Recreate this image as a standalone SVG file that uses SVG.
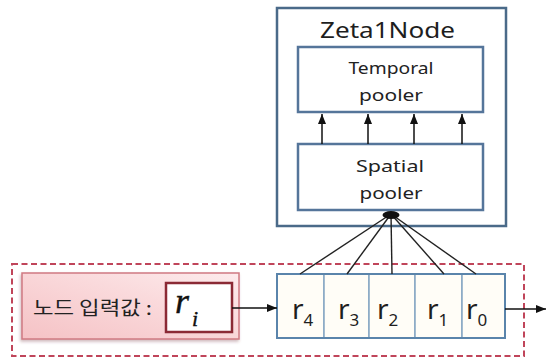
<svg xmlns="http://www.w3.org/2000/svg" width="547" height="358" viewBox="0 0 547 358">
  <defs>
    <marker id="arrow" markerUnits="userSpaceOnUse" markerWidth="10" markerHeight="8" refX="10" refY="4" orient="auto">
      <path d="M0,0 L10,4 L0,8 z" fill="#111"/>
    </marker>
    <linearGradient id="pinkFill" x1="0" y1="1" x2="1" y2="0">
      <stop offset="0" stop-color="#f5c2c5"/>
      <stop offset="0.6" stop-color="#fadadc"/>
      <stop offset="1" stop-color="#fdeced"/>
    </linearGradient>
    <filter id="softShadow" x="-10%" y="-10%" width="120%" height="130%">
      <feDropShadow dx="-1" dy="2" stdDeviation="1.5" flood-color="#7a3a40" flood-opacity="0.35"/>
    </filter>
    <style>
      .node-frame { fill: #ffffff; stroke: #4a6a89; stroke-width: 2.5; }
      .pool-box { fill: #ffffff; stroke: #55759a; stroke-width: 2.5; }
      .title { font-family: "Noto Sans", "Liberation Sans", sans-serif; font-size: 22px; fill: #1e1e1e; }
      .label { font-family: "Noto Sans", "Liberation Sans", sans-serif; font-size: 17px; fill: #222; text-anchor: middle; }
      .cell { fill: #fffdf7; stroke: #86a6c4; stroke-width: 1.5; }
      .array-frame { fill: none; stroke: #5a84ab; stroke-width: 2; }
      .r-main { font-family: "Noto Sans", "Liberation Sans", sans-serif; font-size: 28px; fill: #1e1e1e; }
      .r-sub { font-size: 17px; }
      .wire { stroke: #222; stroke-width: 1.4; fill: none; }
      .arrow { stroke: #111; stroke-width: 1.5; fill: none; marker-end: url(#arrow); }
      .math { font-family: "Liberation Serif", "DejaVu Serif", serif; font-style: italic; fill: #111; }
    </style>
  </defs>

  <rect width="547" height="358" fill="#ffffff"/>

  <!-- Zeta1Node container -->
  <g id="zeta1node">
    <rect class="node-frame" x="277" y="8" width="229" height="218"/>
    <text class="title" x="320" y="38" textLength="135" lengthAdjust="spacingAndGlyphs">Zeta1Node</text>
  </g>

  <!-- Temporal pooler -->
  <g id="temporal-pooler">
    <rect class="pool-box" x="298" y="47" width="185" height="65"/>
    <text class="label" x="391" y="74" textLength="85" lengthAdjust="spacingAndGlyphs">Temporal</text>
    <text class="label" x="391" y="101" textLength="64" lengthAdjust="spacingAndGlyphs">pooler</text>
  </g>

  <!-- Spatial pooler -->
  <g id="spatial-pooler">
    <rect class="pool-box" x="298" y="144" width="185" height="66"/>
    <text class="label" x="390" y="172" textLength="68" lengthAdjust="spacingAndGlyphs">Spatial</text>
    <text class="label" x="391" y="199" textLength="63" lengthAdjust="spacingAndGlyphs">pooler</text>
  </g>

  <!-- Input region (dashed) -->
  <g id="input-region">
    <rect x="12" y="264" width="512" height="92" fill="none" stroke="#c0455a" stroke-width="2" stroke-dasharray="6 3.5"/>
  </g>

  <!-- Node input value label -->
  <g id="input-label">
    <rect x="22" y="273" width="217" height="66" fill="url(#pinkFill)" stroke="#cf7a82" stroke-width="1.5" filter="url(#softShadow)"/>
    <text x="33" y="315" font-family="'Noto Sans CJK KR', 'Noto Sans', sans-serif" font-size="19" fill="#222" textLength="119" lengthAdjust="spacingAndGlyphs">노드 입력값 :</text>
  </g>

  <!-- r_i value box -->
  <g id="input-value">
    <rect x="166" y="283" width="66" height="49" fill="#ffffff" stroke="#8b2a35" stroke-width="2.5"/>
    <text class="math" x="175" y="313" font-size="36" stroke="#111" stroke-width="0.4">r<tspan font-size="22" dx="3" dy="13">i</tspan></text>
  </g>

  <!-- Shift register r4..r0 -->
  <g id="register">
    <g id="cell-r4">
      <rect class="cell" x="277" y="274" width="47" height="64"/>
      <text class="r-main" x="292" y="319">r<tspan class="r-sub" dy="7">4</tspan></text>
    </g>
    <g id="cell-r3">
      <rect class="cell" x="324" y="274" width="45" height="64"/>
      <text class="r-main" x="338" y="319">r<tspan class="r-sub" dy="7">3</tspan></text>
    </g>
    <g id="cell-r2">
      <rect class="cell" x="369" y="274" width="46" height="64"/>
      <text class="r-main" x="377" y="319">r<tspan class="r-sub" dy="7">2</tspan></text>
    </g>
    <g id="cell-r1">
      <rect class="cell" x="415" y="274" width="47" height="64"/>
      <text class="r-main" x="427" y="319">r<tspan class="r-sub" dy="7">1</tspan></text>
    </g>
    <g id="cell-r0">
      <rect class="cell" x="462" y="274" width="43" height="64"/>
      <text class="r-main" x="466" y="319">r<tspan class="r-sub" dy="7">0</tspan></text>
    </g>
    <rect class="array-frame" x="277" y="274" width="228" height="64"/>
  </g>

  <!-- Connectors -->
  <g id="connectors">
    <!-- spatial to temporal -->
    <line class="arrow" x1="322" y1="144" x2="322" y2="114"/>
    <line class="arrow" x1="368" y1="144" x2="368" y2="114"/>
    <line class="arrow" x1="414" y1="144" x2="414" y2="114"/>
    <line class="arrow" x1="462" y1="144" x2="462" y2="114"/>
    <!-- register cells fan into spatial pooler -->
    <line class="wire" x1="391" y1="214" x2="300" y2="274"/>
    <line class="wire" x1="391" y1="214" x2="347" y2="274"/>
    <line class="wire" x1="391" y1="214" x2="392" y2="274"/>
    <line class="wire" x1="391" y1="214" x2="444" y2="274"/>
    <line class="wire" x1="391" y1="214" x2="476" y2="274"/>
    <ellipse cx="391" cy="215" rx="8.5" ry="4" fill="#111"/>
    <!-- input and output flow -->
    <line class="arrow" x1="232" y1="308" x2="277" y2="308"/>
    <line class="arrow" x1="505" y1="309" x2="546" y2="309"/>
  </g>
</svg>
